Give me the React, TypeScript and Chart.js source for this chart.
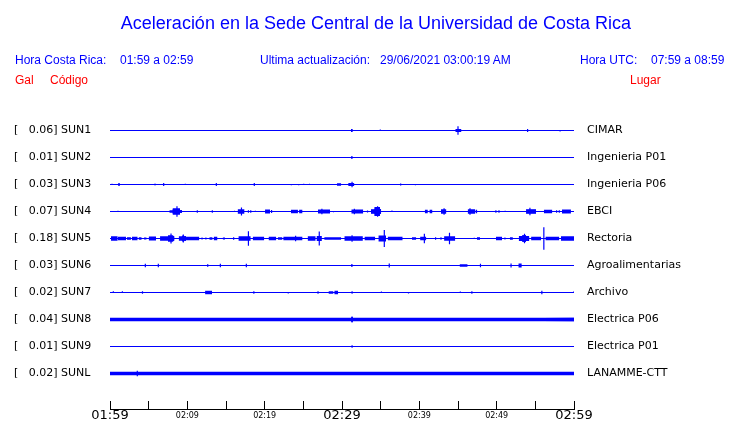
import { useEffect, useRef } from "react";
import { Chart, registerables } from "chart.js";

Chart.register(...registerables);

// ---------- data ----------
const STATIONS = ["SUN1", "SUN2", "SUN3", "SUN4", "SUN5", "SUN6", "SUN7", "SUN8", "SUN9", "SUNL"];
const PLACES = [
  "CIMAR",
  "Ingenieria P01",
  "Ingenieria P06",
  "EBCI",
  "Rectoria",
  "Agroalimentarias",
  "Archivo",
  "Electrica P06",
  "Electrica P01",
  "LANAMME-CTT",
];
const PEAK_GAL = [0.06, 0.01, 0.03, 0.07, 0.18, 0.03, 0.02, 0.04, 0.01, 0.02];

// minutes after 01:59
const TICK_MINUTES = [0, 5, 10, 15, 20, 25, 30, 35, 40, 45, 50, 55, 60];
const TICK_LABEL_MINUTES = [0, 10, 20, 30, 40, 50, 60];
const TICK_LABELS = ["01:59", "02:09", "02:19", "02:29", "02:39", "02:49", "02:59"];
const MAJOR_TICK_MINUTES = [0, 30, 60];

// bursts: [start min, end min, half amplitude gal]
// spikes: [min, amplitude up gal, amplitude down gal]
const SUN1_BURSTS = [[31.15, 31.4, 0.022], [44.65, 45.45, 0.025]];
const SUN1_SPIKES = [[34.95, 0.016, 0], [45.0, 0.067, 0.067], [54.0, 0.023, 0.023], [58.2, 0, 0.016]];

const SUN2_BURSTS = [[31.15, 31.4, 0.02]];
const SUN2_SPIKES: number[][] = [];

const SUN3_BURSTS = [
  [1.03, 1.3, 0.018], [5.7, 5.95, 0.012], [29.35, 29.9, 0.02], [30.8, 31.6, 0.025], [37.5, 37.7, 0.016],
];
const SUN3_SPIKES = [
  [0.26, 0.011, 0], [6.94, 0.023, 0.023], [9.74, 0.011, 0], [13.75, 0.023, 0.023], [18.66, 0.023, 0.023],
  [23.45, 0, 0.011], [24.4, 0, 0.011], [25.05, 0.011, 0], [25.8, 0.011, 0], [31.3, 0.042, 0.042], [39.5, 0, 0.011],
];

const SUN4_BURSTS = [
  [7.67, 9.31, 0.02], [8.1, 9.05, 0.048], [16.5, 17.4, 0.036], [20.05, 20.7, 0.031], [20.8, 21.0, 0.025],
  [23.4, 24.3, 0.027], [24.45, 24.9, 0.027], [26.9, 28.45, 0.031], [31.2, 32.75, 0.031], [33.75, 35.05, 0.036],
  [34.2, 34.9, 0.07], [40.7, 41.1, 0.027], [41.3, 41.7, 0.027], [42.8, 43.5, 0.036], [46.25, 47.2, 0.036],
  [47.25, 47.5, 0.027], [53.8, 55.1, 0.036], [56.1, 57.2, 0.027], [58.45, 59.6, 0.031],
];
const SUN4_SPIKES = [
  [1.03, 0.011, 0], [8.66, 0.083, 0.083], [11.29, 0.02, 0.02], [13.23, 0.02, 0.02], [16.1, 0.011, 0],
  [17.0, 0.062, 0.062], [17.9, 0.02, 0.02], [18.2, 0.02, 0.02], [18.8, 0.011, 0], [27.4, 0.042, 0.042],
  [28.9, 0, 0.011], [31.6, 0.042, 0.042], [33.3, 0.016, 0.016], [34.6, 0.083, 0.083], [36.46, 0.016, 0],
  [43.2, 0.052, 0.052], [46.55, 0.052, 0.052], [49.9, 0.02, 0.02], [50.3, 0.02, 0.02], [51.1, 0.011, 0],
  [54.3, 0.058, 0.058], [57.75, 0.02, 0.02], [58.1, 0.02, 0.02],
];

const SUN5_BURSTS = [
  [0.13, 1.0, 0.036], [1.0, 2.07, 0.027], [2.2, 2.7, 0.02], [2.84, 3.58, 0.027], [3.7, 4.1, 0.02],
  [4.4, 4.74, 0.016], [5.0, 5.95, 0.031], [6.47, 8.31, 0.036], [7.5, 8.2, 0.046], [8.88, 9.83, 0.036],
  [9.3, 9.6, 0.042], [9.83, 11.55, 0.027], [12.84, 13.27, 0.02], [13.4, 13.9, 0.027], [14.57, 14.87, 0.016],
  [15.9, 16.1, 0.02], [16.6, 18.2, 0.036], [18.45, 19.95, 0.027], [20.5, 21.5, 0.027], [21.7, 22.3, 0.02],
  [22.4, 24.9, 0.027], [25.55, 26.6, 0.036], [26.7, 27.4, 0.04], [27.7, 29.9, 0.02], [30.3, 32.7, 0.036],
  [32.9, 34.3, 0.027], [34.7, 35.7, 0.048], [35.9, 37.85, 0.027], [39.05, 39.6, 0.02], [40.1, 40.9, 0.027],
  [43.2, 44.65, 0.036], [47.45, 47.85, 0.02], [49.9, 50.7, 0.027], [51.7, 52.1, 0.02], [52.85, 54.2, 0.04],
  [53.3, 53.8, 0.05], [54.45, 55.75, 0.027], [56.3, 58.1, 0.027], [58.3, 60, 0.036],
];
const SUN5_SPIKES = [
  [7.89, 0.078, 0.078], [9.48, 0.062, 0.062], [11.9, 0.016, 0.016], [12.4, 0.016, 0.016], [17.9, 0.114, 0.114],
  [24.0, 0.042, 0.042], [27.06, 0.108, 0.108], [31.3, 0.052, 0.052], [35.47, 0.134, 0.134], [40.65, 0.073, 0.073],
  [42.1, 0.02, 0.02], [42.8, 0.02, 0.02], [43.9, 0.09, 0.09], [47.1, 0.011, 0], [51.07, 0.016, 0.016],
  [53.6, 0.073, 0.073], [56.1, 0.175, 0.175],
];

const SUN6_BURSTS = [
  [12.54, 12.75, 0.02], [31.16, 31.4, 0.02], [36.0, 36.2, 0.031], [45.2, 46.25, 0.02], [47.8, 48.0, 0.027],
  [52.8, 53.25, 0.031],
];
const SUN6_SPIKES = [
  [4.57, 0.027, 0.027], [6.25, 0.027, 0.027], [14.27, 0.027, 0.027], [17.63, 0.027, 0.027], [51.86, 0.031, 0.031],
];

const SUN7_BURSTS = [
  [12.3, 13.2, 0.027], [28.25, 28.9, 0.02], [29.0, 29.5, 0.027], [31.2, 31.4, 0.02], [46.7, 46.9, 0.02],
  [55.75, 55.95, 0.027],
];
const SUN7_SPIKES = [
  [0.43, 0.02, 0], [1.6, 0.02, 0], [4.2, 0.02, 0.02], [18.6, 0.02, 0.02], [23.05, 0, 0.016], [26.9, 0.02, 0.02],
  [35.1, 0.016, 0], [38.6, 0, 0.016], [45.3, 0.016, 0], [60, 0.02, 0],
];

const SUN8_BURSTS = [[0, 60, 0.027], [31.2, 31.4, 0.042]];
const SUN8_SPIKES: number[][] = [];

const SUN9_BURSTS = [[31.2, 31.4, 0.02]];
const SUN9_SPIKES: number[][] = [];

const SUNL_BURSTS = [[0, 60, 0.029]];
const SUNL_SPIKES = [[3.53, 0.042, 0.042]];

const ALL_BURSTS = [
  SUN1_BURSTS, SUN2_BURSTS, SUN3_BURSTS, SUN4_BURSTS, SUN5_BURSTS,
  SUN6_BURSTS, SUN7_BURSTS, SUN8_BURSTS, SUN9_BURSTS, SUNL_BURSTS,
];
const ALL_SPIKES = [
  SUN1_SPIKES, SUN2_SPIKES, SUN3_SPIKES, SUN4_SPIKES, SUN5_SPIKES,
  SUN6_SPIKES, SUN7_SPIKES, SUN8_SPIKES, SUN9_SPIKES, SUNL_SPIKES,
];

// ---------- layout / style ----------
const BLUE = "#0000ff";
const SPACING = 0.42; // gal between trace baselines
const TRACE_PX = 27;
const AREA_TOP = 117;
const AREA_BOTTOM = 409;
const Y_MIN = -SPACING / 2;
const Y_MAX = Y_MIN + (SPACING * (AREA_BOTTOM - AREA_TOP)) / TRACE_PX;

const LEFT_LABELS = STATIONS.map((s, i) => `[   ${PEAK_GAL[i].toFixed(2)}] ${s}`);

function buildDatasets() {
  const ds: any[] = [];
  STATIONS.forEach((_, i) => {
    const b = i * SPACING;
    ds.push({
      data: [{ x: 0, y: b }, { x: 60, y: b }],
      borderColor: BLUE,
      borderWidth: 1,
    });
    const up: any[] = [];
    const down: any[] = [];
    ALL_BURSTS[i].forEach(([t0, t1, a]) => {
      up.push({ x: t0, y: b - a }, { x: t1, y: b - a }, { x: t1, y: null });
      down.push({ x: t0, y: b + a }, { x: t1, y: b + a }, { x: t1, y: null });
    });
    [up, down].forEach((d) => {
      ds.push({
        data: d,
        borderColor: "rgba(0,0,0,0)",
        borderWidth: 1,
        backgroundColor: BLUE,
        fill: { value: b },
      });
    });
    const sp: any[] = [];
    ALL_SPIKES[i].forEach(([t, u, dn]) => {
      sp.push({ x: t, y: b - u }, { x: t, y: b + dn }, { x: t, y: null });
    });
    ds.push({ data: sp, borderColor: BLUE, borderWidth: 1.2 });
  });
  return ds;
}

export default function App() {
  const ref = useRef<HTMLCanvasElement>(null);
  useEffect(() => {
    if (!ref.current) return;
    const chart = new Chart(ref.current, {
      type: "line",
      data: { datasets: buildDatasets() },
      options: {
        animation: false,
        responsive: false,
        devicePixelRatio: 1,
        elements: { point: { radius: 0 }, line: { tension: 0 } },
        layout: { padding: { top: AREA_TOP, left: 14, right: 0, bottom: 0 } },
        plugins: { legend: { display: false }, tooltip: { enabled: false }, title: { display: false } },
        scales: {
          x: {
            type: "linear",
            min: 0,
            max: 60,
            bounds: "data",
            grid: { display: true, drawOnChartArea: false, drawTicks: true, tickLength: -8, color: "#000" },
            border: { display: true, color: "#000", width: 1 },
            afterBuildTicks: (s: any) => {
              s.ticks = TICK_MINUTES.map((v) => ({ value: v }));
            },
            afterFit: (s: any) => {
              s.height = 423 - AREA_BOTTOM;
            },
            ticks: {
              autoSkip: false,
              maxRotation: 0,
              padding: 7,
              color: "#000",
              font: (ctx: any) => {
                const v = ctx.tick ? ctx.tick.value : 0;
                const big = MAJOR_TICK_MINUTES.includes(v);
                return { family: "DejaVu Sans", size: big ? 13 : 8, lineHeight: "16px" };
              },
              callback: (v: any) => {
                const k = TICK_LABEL_MINUTES.indexOf(Number(v));
                return k >= 0 ? TICK_LABELS[k] : "";
              },
            },
          },
          y: {
            type: "linear",
            position: "left",
            min: Y_MIN,
            max: Y_MAX,
            reverse: true,
            bounds: "data",
            grid: { display: false, drawTicks: false },
            border: { display: false },
            afterBuildTicks: (s: any) => {
              s.ticks = STATIONS.map((_, i) => ({ value: i * SPACING }));
            },
            afterFit: (s: any) => {
              s.width = 96;
              s.paddingTop = 0;
              s.paddingBottom = 0;
            },
            ticks: {
              autoSkip: false,
              crossAlign: "far",
              color: "#000",
              font: { family: "DejaVu Sans", size: 11 },
              callback: (_v: any, idx: number) => LEFT_LABELS[idx],
            },
          },
          y2: {
            type: "linear",
            position: "right",
            min: Y_MIN,
            max: Y_MAX,
            reverse: true,
            bounds: "data",
            grid: { display: false, drawTicks: false },
            border: { display: false },
            afterBuildTicks: (s: any) => {
              s.ticks = STATIONS.map((_, i) => ({ value: i * SPACING }));
            },
            afterFit: (s: any) => {
              s.width = 740 - 574;
              s.paddingTop = 0;
              s.paddingBottom = 0;
            },
            ticks: {
              autoSkip: false,
              padding: 13,
              color: "#000",
              font: { family: "DejaVu Sans", size: 11 },
              callback: (_v: any, idx: number) => PLACES[idx],
            },
          },
        },
      } as any,
    });
    return () => chart.destroy();
  }, []);

  const txt = (extra: any) => ({
    position: "absolute" as const,
    whiteSpace: "pre" as const,
    fontFamily: '"Liberation Sans", Arial, sans-serif',
    margin: 0,
    ...extra,
  });

  return (
    <div style={{ position: "fixed", left: 0, top: 0, width: 740, height: 423, background: "#fff" }}>
      <canvas ref={ref} width={740} height={423} style={{ position: "absolute", left: 0, top: 0 }} />
      <div style={txt({ left: 0, width: 752, textAlign: "center", top: 14, fontSize: 18, lineHeight: "18px", color: BLUE })}>
        Aceleración en la Sede Central de la Universidad de Costa Rica
      </div>
      <div style={txt({ left: 15, top: 54, fontSize: 12, lineHeight: "12px", color: BLUE })}>Hora Costa Rica:</div>
      <div style={txt({ left: 120, top: 54, fontSize: 12, lineHeight: "12px", color: BLUE })}>01:59 a 02:59</div>
      <div style={txt({ left: 260, top: 54, fontSize: 12, lineHeight: "12px", color: BLUE })}>Ultima actualización:</div>
      <div style={txt({ left: 380, top: 54, fontSize: 12, lineHeight: "12px", color: BLUE })}>29/06/2021 03:00:19 AM</div>
      <div style={txt({ left: 580, top: 54, fontSize: 12, lineHeight: "12px", color: BLUE })}>Hora UTC:</div>
      <div style={txt({ left: 651, top: 54, fontSize: 12, lineHeight: "12px", color: BLUE })}>07:59 a 08:59</div>
      <div style={txt({ left: 15, top: 74, fontSize: 12, lineHeight: "12px", color: "#ff0000" })}>Gal</div>
      <div style={txt({ left: 50, top: 74, fontSize: 12, lineHeight: "12px", color: "#ff0000" })}>Código</div>
      <div style={txt({ left: 630, top: 74, fontSize: 12, lineHeight: "12px", color: "#ff0000" })}>Lugar</div>
    </div>
  );
}
